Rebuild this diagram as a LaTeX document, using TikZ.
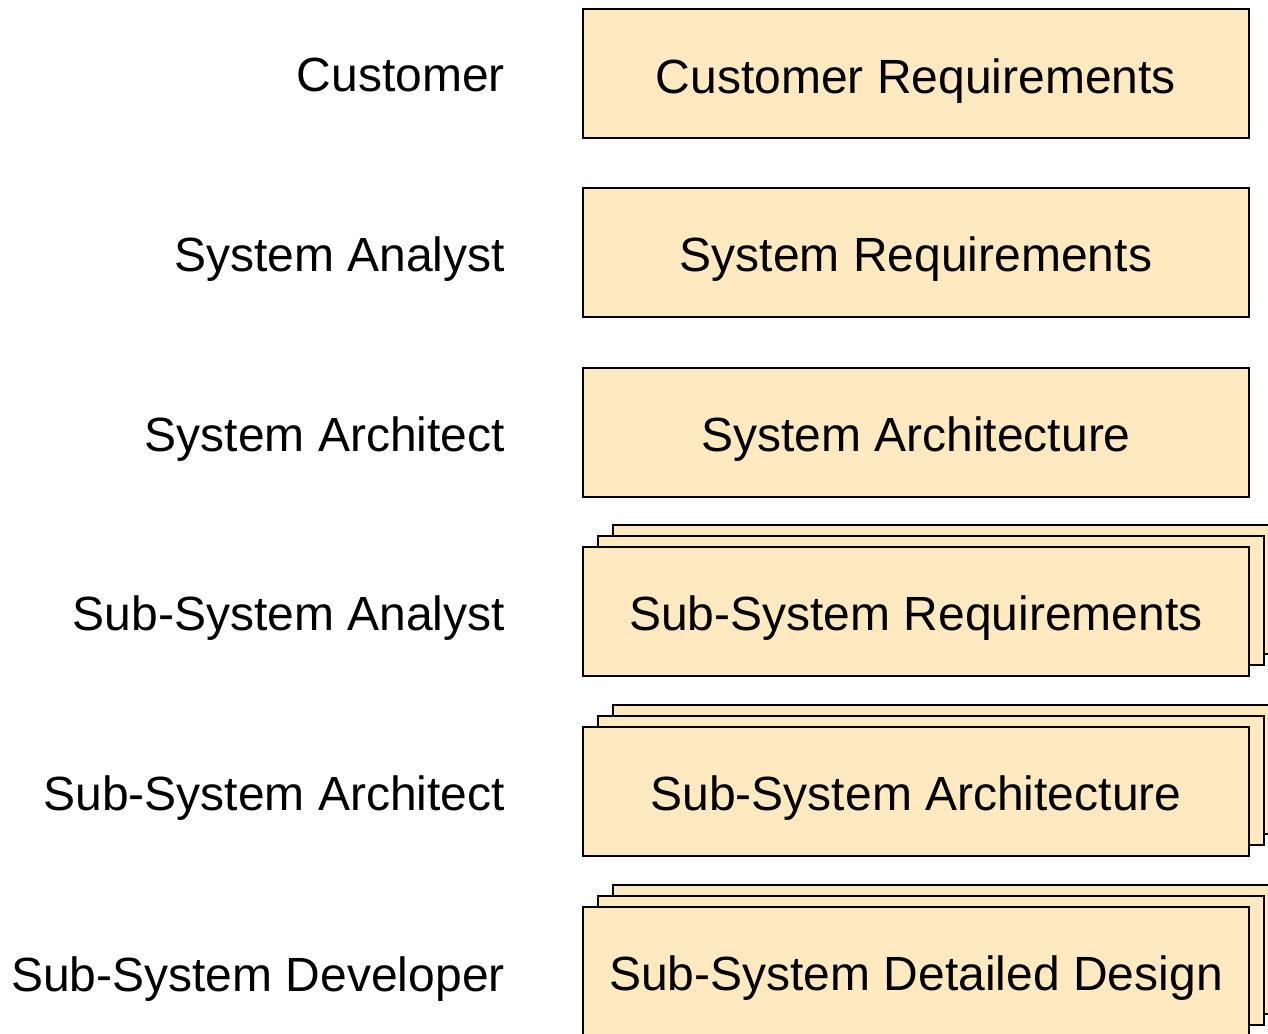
\documentclass[tikz,border=0pt]{standalone}
\usepackage{fontspec}
\setmainfont{Liberation Sans}
\definecolor{boxfill}{RGB}{255,233,192}
\begin{document}
\begin{tikzpicture}[x=1pt,y=-1pt,
  box/.style={draw=black,line width=2.4pt,fill=boxfill},
  doc/.style={box,minimum width=666pt,minimum height=129pt,inner sep=0pt},
  doctext/.style={anchor=base,inner sep=0pt,font=\fontsize{48}{56}\selectfont},
  role/.style={anchor=base east,inner sep=0pt,font=\fontsize{48}{56}\selectfont}]
\useasboundingbox (0,0) rectangle (1268,1033);
\fill[white] (0,0) rectangle (1268,1033);
% stacked backs
\foreach \ty in {547,727,907}{
  \draw[box] (613,\ty-22) rectangle (1279,\ty+107);
  \draw[box] (598,\ty-11) rectangle (1264,\ty+118);
}
\node[doc] (cr) at (916,73.5) {};
\node[doc] (sr) at (916,252.5) {};
\node[doc] (sa) at (916,432.5) {};
\node[doc] (ssr) at (916,611.5) {};
\node[doc] (ssa) at (916,791.5) {};
\node[doc] (ssd) at (916,971.5) {};
\node[doctext] (tcr) at (916,93) {Customer Requirements};
\node[doctext] (tsr) at (916,271) {System Requirements};
\node[doctext] (tsa) at (916,451) {System Architecture};
\node[doctext] (tssr) at (916,630) {Sub-System Requirements};
\node[doctext] (tssa) at (916,810) {Sub-System Architecture};
\node[doctext] (tssd) at (916,990) {Sub-System Detailed Design};
\node[role] (r1) at (505,92) {Customer};
\node[role] (r2) at (505,271) {System Analyst};
\node[role] (r3) at (505,451) {System Architect};
\node[role] (r4) at (505,630) {Sub-System Analyst};
\node[role] (r5) at (505,810) {Sub-System Architect};
\node[role] (r6) at (505,991) {Sub-System Developer};
\end{tikzpicture}
\end{document}
